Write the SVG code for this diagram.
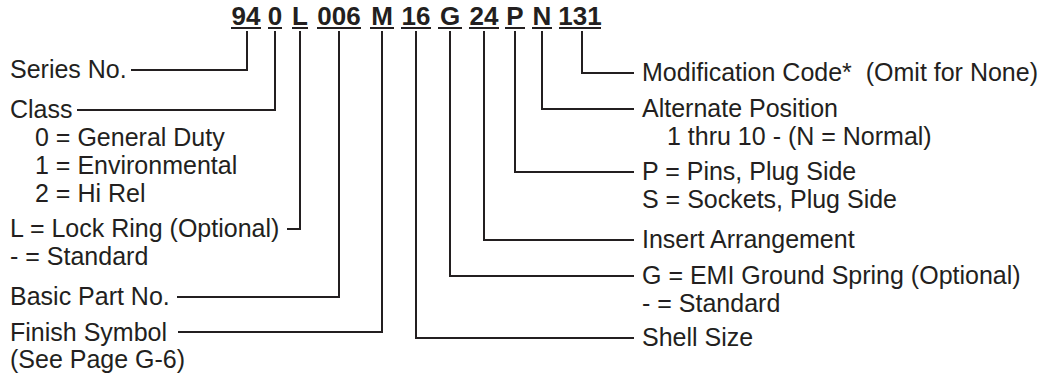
<svg xmlns="http://www.w3.org/2000/svg" width="1046" height="374" viewBox="0 0 1046 374">
<style>
text{font-family:"Liberation Sans",Arial,sans-serif;font-size:25px;fill:#231f20;white-space:pre}
.code{font-weight:bold;text-anchor:middle;font-size:26px}
.ul{stroke:#231f20;stroke-width:2}
.conn path{fill:none;stroke:#231f20;stroke-width:2;stroke-linejoin:miter}
</style>
<rect width="1046" height="374" fill="#fff"/>
<g id="code">
<text class="code" x="246" y="25">94</text>
<text class="code" x="275" y="25">0</text>
<text class="code" x="300" y="25">L</text>
<text class="code" x="339" y="25">006</text>
<text class="code" x="382" y="25">M</text>
<text class="code" x="416" y="25">16</text>
<text class="code" x="450" y="25">G</text>
<text class="code" x="484" y="25">24</text>
<text class="code" x="515" y="25">P</text>
<text class="code" x="542" y="25">N</text>
<text class="code" x="580" y="25">131</text>
<g class="ul">
<line x1="231" y1="28" x2="261" y2="28"/>
<line x1="268" y1="28" x2="282" y2="28"/>
<line x1="292" y1="28" x2="308" y2="28"/>
<line x1="317" y1="28" x2="361" y2="28"/>
<line x1="370" y1="28" x2="394" y2="28"/>
<line x1="401" y1="28" x2="431" y2="28"/>
<line x1="438" y1="28" x2="462" y2="28"/>
<line x1="469" y1="28" x2="499" y2="28"/>
<line x1="505" y1="28" x2="525" y2="28"/>
<line x1="532" y1="28" x2="552" y2="28"/>
<line x1="559" y1="28" x2="601" y2="28"/>
</g>
</g>
<g id="series"><text x="10" y="78">Series No.</text></g>
<g id="class"><text x="10" y="118">Class</text>
<text x="35" y="146">0 = General Duty</text>
<text x="35" y="174">1 = Environmental</text>
<text x="35" y="202">2 = Hi Rel</text></g>
<g id="lockring"><text x="10" y="237">L = Lock Ring (Optional)</text>
<text x="10" y="265">- = Standard</text></g>
<g id="basic"><text x="10" y="305">Basic Part No.</text></g>
<g id="finish"><text x="10" y="341">Finish Symbol</text>
<text x="10" y="368">(See Page G-6)</text></g>
<g id="modification"><text x="642" y="81">Modification Code*  (Omit for None)</text></g>
<g id="altpos"><text x="642" y="117">Alternate Position</text>
<text x="667" y="145">1 thru 10 - (N = Normal)</text></g>
<g id="contacts"><text x="642" y="180">P = Pins, Plug Side</text>
<text x="642" y="208">S = Sockets, Plug Side</text></g>
<g id="insert"><text x="642" y="248">Insert Arrangement</text></g>
<g id="ground"><text x="642" y="284">G = EMI Ground Spring (Optional)</text>
<text x="642" y="312">- = Standard</text></g>
<g id="shell"><text x="642" y="346">Shell Size</text></g>
<g id="connectors" class="conn">
<path d="M247,31 V70 H131"/>
<path d="M275,31 V110 H77"/>
<path d="M300,31 V229 H287"/>
<path d="M339,31 V297 H177"/>
<path d="M382,31 V332 H178"/>
<path d="M416,31 V338 H634"/>
<path d="M450,31 V276 H634"/>
<path d="M484,31 V240 H634"/>
<path d="M515,31 V172 H634"/>
<path d="M542,31 V109 H634"/>
<path d="M582,31 V73 H634"/>
</g>
</svg>
